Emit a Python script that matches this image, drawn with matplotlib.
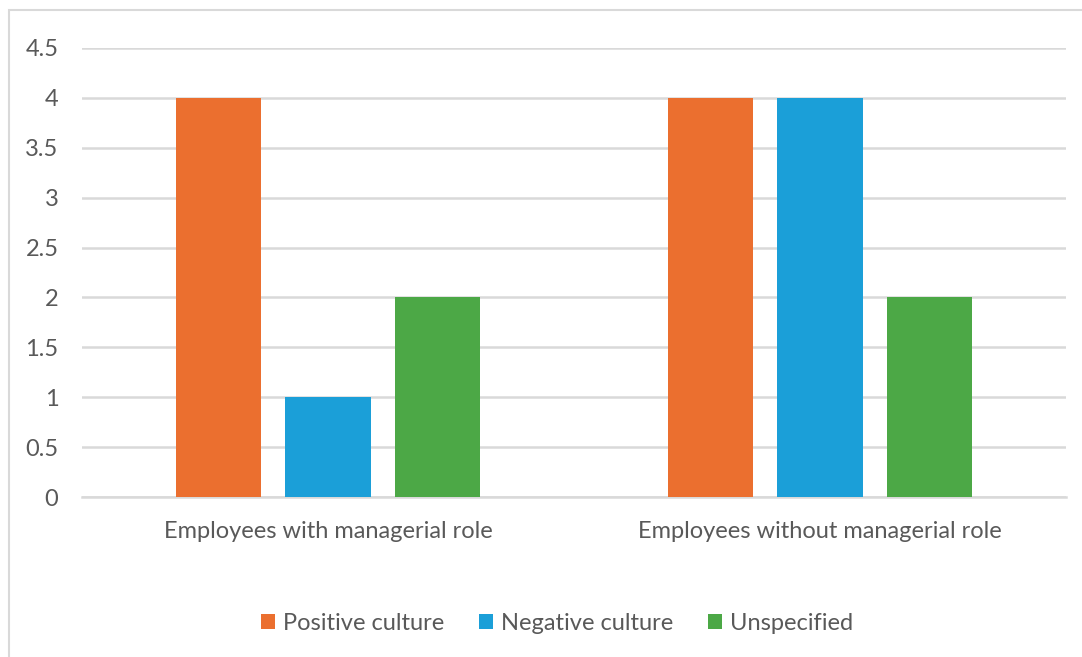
import numpy as np
import matplotlib.pyplot as plt
from matplotlib.patches import Rectangle

plt.rcParams['font.family'] = ['Lato', 'DejaVu Sans']

groups = ['Employees with managerial role', 'Employees without managerial role']
series = ['Positive culture', 'Negative culture', 'Unspecified']
positive = [4, 4]
negative = [1, 4]
unspecified = [2, 2]
colors = ['#EB6F2F', '#1B9FD8', '#4CA846']
yticks = [0, 0.5, 1, 1.5, 2, 2.5, 3, 3.5, 4, 4.5]

W, H = 1082, 657
fig = plt.figure(figsize=(W / 100, H / 100), dpi=100)
ax = fig.add_axes([82 / W, (H - 497) / H, (1066 - 82) / W, (497 - 48) / H])

# outer chart frame
fig.patches.append(Rectangle((9 / W, -0.05), 1.1, (H - 10) / H + 0.05,
                             transform=fig.transFigure, fill=False,
                             edgecolor='#D9D9D9', linewidth=1.5))

x = np.arange(len(groups))
width = 0.173
step = 0.2225
for i, (name, vals) in enumerate(zip(series, [positive, negative, unspecified])):
    ax.bar(x + (i - 1) * step, vals, width, color=colors[i], label=name, zorder=3)

ax.set_xlim(-0.5, 1.5)
ax.set_ylim(0, 4.5)
ax.set_yticks(yticks)
ax.set_yticklabels([f'{t:g}' for t in yticks])
ax.set_xticks(x)
ax.set_xticklabels(groups)
ax.grid(axis='y', color='#D9D9D9', linewidth=1.8, zorder=0)
for s in ['top', 'right', 'left']:
    ax.spines[s].set_visible(False)
ax.spines['bottom'].set_color('#D9D9D9')
ax.spines['bottom'].set_linewidth(1.8)
ax.tick_params(axis='both', length=0, colors='#595959', labelsize=17)
ax.tick_params(axis='y', pad=17)
ax.tick_params(axis='x', pad=17)

leg = fig.legend(loc='center', bbox_to_anchor=(557 / W, (H - 623) / H), ncol=3,
                 frameon=False, fontsize=17, handlelength=0.6, handleheight=0.6,
                 handletextpad=0.35, columnspacing=1.45)
for t in leg.get_texts():
    t.set_color('#595959')

fig.savefig('out.png', dpi=100)
